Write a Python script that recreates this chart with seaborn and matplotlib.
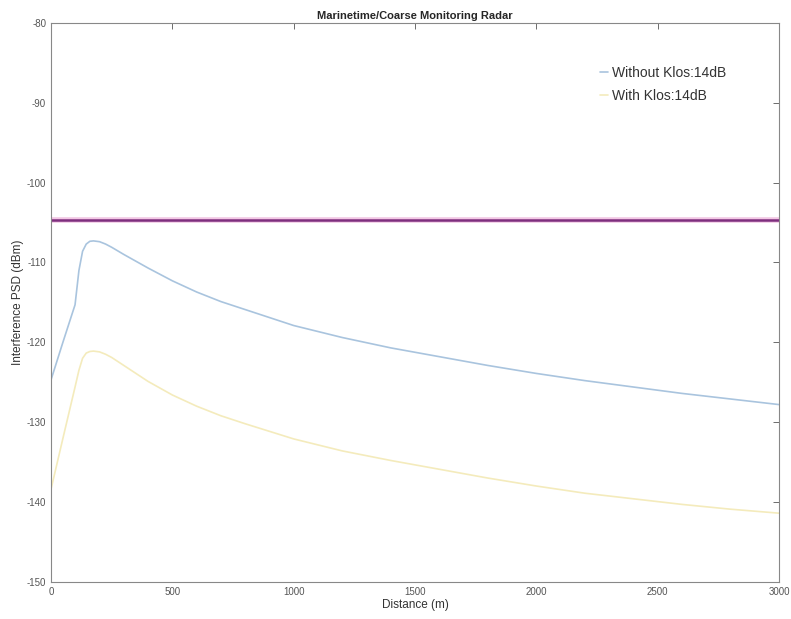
import matplotlib
matplotlib.use('Agg')
import matplotlib.pyplot as plt
import seaborn as sns
import pandas as pd

# values
distance = [0, 50, 99, 115, 130, 145, 160, 175, 200, 225, 250, 300, 400, 500, 600, 700, 800,
            1000, 1200, 1400, 1600, 1800, 2000, 2200, 2400, 2600, 2800, 3000]
without_klos = [-124.7, -119.9, -115.3, -111.0, -108.6, -107.7, -107.35, -107.3, -107.4,
                -107.7, -108.1, -109.0, -110.7, -112.3, -113.7, -114.9, -115.9,
                -117.9, -119.4, -120.7, -121.8, -122.9, -123.9, -124.8, -125.6, -126.4,
                -127.1, -127.8]
with_klos = [-138.4, -131.9, -125.6, -123.5, -122.0, -121.35, -121.15, -121.1, -121.2,
             -121.5, -121.9, -122.9, -124.9, -126.6, -128.0, -129.2, -130.2,
             -132.1, -133.6, -134.8, -135.9, -137.0, -138.0, -138.9, -139.6, -140.3,
             -140.9, -141.4]
threshold = -104.7
labels = ['Without Klos:14dB', 'With Klos:14dB']

sns.set_style('white')
plt.rcParams['font.family'] = ['Liberation Sans', 'DejaVu Sans']
plt.rcParams['axes.unicode_minus'] = False

df = pd.DataFrame({'Distance': distance * 2,
                   'PSD': without_klos + with_klos,
                   'case': [labels[0]] * len(distance) + [labels[1]] * len(distance)})

fig = plt.figure(figsize=(7.91, 6.19), dpi=100)
ax = fig.add_axes([0.0645, 0.06, 0.9205, 0.903])

sns.lineplot(data=df, x='Distance', y='PSD', hue='case', ax=ax,
             palette=['#a9c4de', '#f4ebbc'], linewidth=1.2)
ax.axhline(threshold, color='#f2c6e4', linewidth=4.0, zorder=1)
ax.axhline(threshold, color='#7e2f7e', linewidth=1.8, zorder=2)

ax.set_xlim(0, 3000)
ax.set_ylim(-150, -80)
ax.set_xticks(range(0, 3001, 500))
ax.set_yticks(range(-150, -79, 10))
ax.tick_params(direction='in', top=True, right=True, labelsize=7, colors='#555555',
               length=4, width=0.6)
for s in ax.spines.values():
    s.set_color('#888888')
    s.set_linewidth(0.8)

ax.set_xlabel('Distance (m)', fontsize=8.5, color='#333333', labelpad=2)
ax.set_ylabel('Interference PSD (dBm)', fontsize=8.5, color='#333333', labelpad=2)
ax.set_title('Marinetime/Coarse Monitoring Radar', fontsize=8, fontweight='bold', pad=3)

leg = ax.legend(loc='upper right', bbox_to_anchor=(0.945, 0.945), frameon=False,
                fontsize=10, handlelength=0.6, handletextpad=0.3, labelspacing=0.65)
for t in leg.get_texts():
    t.set_color('#333333')

fig.savefig('out.png', dpi=100)
